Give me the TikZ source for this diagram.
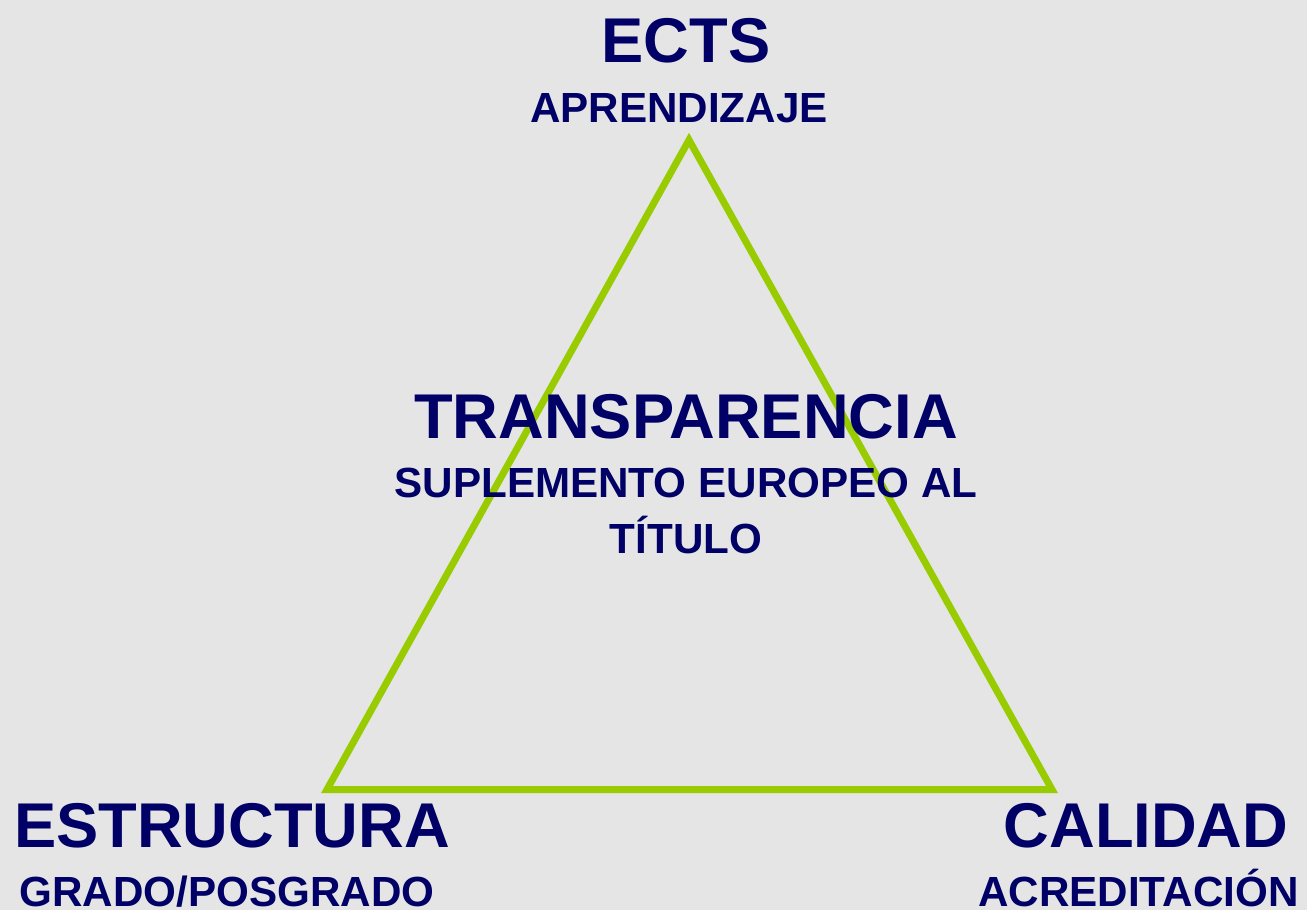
\documentclass[tikz,border=0pt]{standalone}
\usepackage{fontspec}
\setmainfont{Liberation Sans}
\definecolor{navy}{RGB}{0,0,102}
\definecolor{lime}{RGB}{153,204,0}
\definecolor{paper}{RGB}{229,229,229}
\begin{document}
\begin{tikzpicture}[x=0.02cm,y=-0.02cm,
    big/.style={anchor=base, inner sep=0pt, text=navy, font=\fontsize{36}{40}\selectfont\bfseries},
    small/.style={anchor=base, inner sep=0pt, text=navy, font=\fontsize{24}{28}\selectfont\bfseries}]
  \fill[paper] (0,0) rectangle (1307,910);
  \useasboundingbox (0,0) rectangle (1307,910);
  % corners of the triangle
  \coordinate (top) at (689,140);
  \coordinate (left) at (327,789.5);
  \coordinate (right) at (1052,789.5);
  \draw[lime, line width=0.14cm, miter limit=10] (top) -- (right) -- (left) -- cycle;
  % labels
  \node[big] (ects) at (686,62) {ECTS};
  \node[small] (aprendizaje) at (679,122) {APRENDIZAJE};
  \node[big] (transparencia) at (686,438) {TRANSPARENCIA};
  \node[small] (suplemento) at (686,497) {SUPLEMENTO EUROPEO AL};
  \node[small] (titulo) at (686,553) {TÍTULO};
  \node[big] (estructura) at (232,847) {ESTRUCTURA};
  \node[small] (grado) at (227,906) {GRADO/POSGRADO};
  \node[big] (calidad) at (1146,847) {CALIDAD};
  \node[small, anchor=base west] (acreditacion) at (978,906) {ACREDITACIÓN};
\end{tikzpicture}
\end{document}
